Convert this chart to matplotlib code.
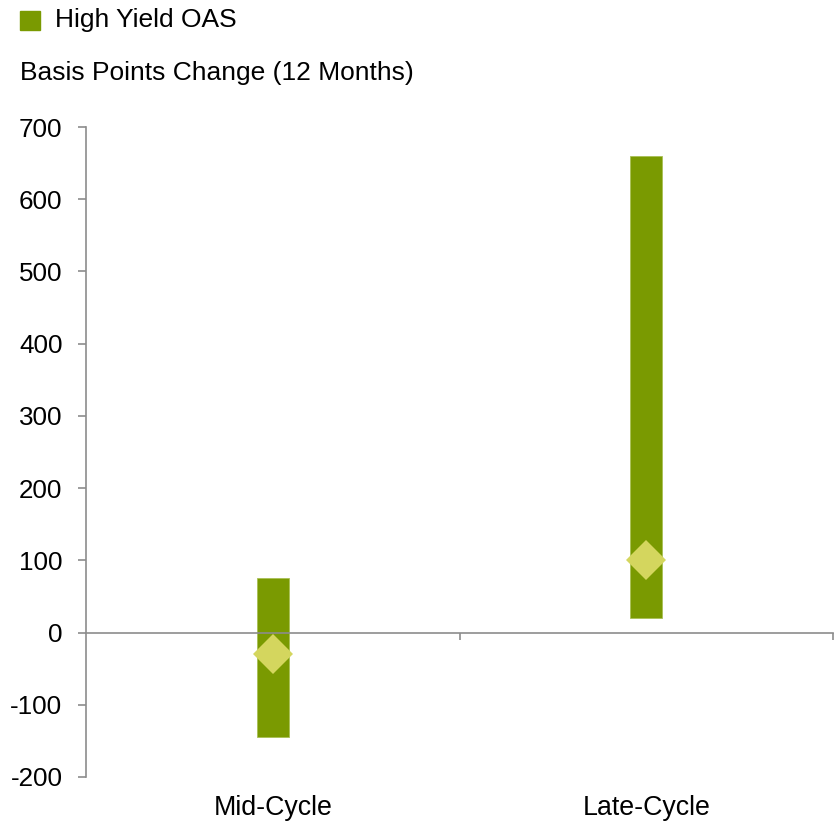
import numpy as np
import matplotlib.pyplot as plt
from matplotlib.patches import Rectangle

plt.rcParams['font.family'] = ['Liberation Sans', 'DejaVu Sans']

# 12-month change in high yield OAS (bp): range and median by cycle phase
phases = ['Mid-Cycle', 'Late-Cycle']
range_low = [-144, 20]
range_high = [75, 660]
median = [-30, 100]

bar_color = '#7a9a01'
dot_color = '#d4d65e'
axis_color = '#8c8c8c'

fig = plt.figure(figsize=(8.4, 8.23), dpi=100)
ax = fig.add_axes([86 / 840, 1 - 777 / 823, (833 - 86) / 840, (777 - 127) / 823])

x = np.arange(len(phases))
lows = np.array(range_low)
highs = np.array(range_high)
ax.bar(x, highs - lows, bottom=lows, width=0.086, color=bar_color,
       edgecolor='#a8bf55', linewidth=0.6, zorder=2)
ax.plot(x, median, linestyle='none', marker='D', markersize=20,
        color=dot_color, markeredgewidth=0, zorder=3)

ax.set_xlim(-0.5, len(phases) - 0.5)
ax.set_ylim(-200, 700)
ax.set_yticks(range(-200, 701, 100))
ax.set_yticklabels([str(v) for v in range(-200, 701, 100)], fontsize=18.7)

# horizontal axis sits on the zero line, ticks between categories
ax.spines['bottom'].set_position(('data', 0))
ax.set_xticks([0.5, 1.5])
ax.set_xticklabels([])
for s in ['top', 'right']:
    ax.spines[s].set_visible(False)
for s in ['left', 'bottom']:
    ax.spines[s].set_color(axis_color)
    ax.spines[s].set_linewidth(1.2)
ax.tick_params(axis='y', length=6, width=1.2, color=axis_color, pad=11)
ax.tick_params(axis='x', length=5, width=1.2, color=axis_color)

for xi, name in zip(x, phases):
    ax.annotate(name, xy=(xi, 0), xycoords=('data', 'axes fraction'),
                xytext=(0, -22), textcoords='offset points',
                ha='center', va='center', fontsize=19.3)

# legend and axis title above the plot
fig.add_artist(Rectangle((20 / 840, 1 - 30 / 823), 20 / 840, 19 / 823,
                         transform=fig.transFigure, color=bar_color))
fig.text(55 / 840, 1 - 27.5 / 823, 'High Yield OAS', fontsize=19, va='baseline')
fig.text(20 / 840, 1 - 80 / 823, 'Basis Points Change (12 Months)',
         fontsize=19, va='baseline')

fig.savefig('out.png', dpi=100)
